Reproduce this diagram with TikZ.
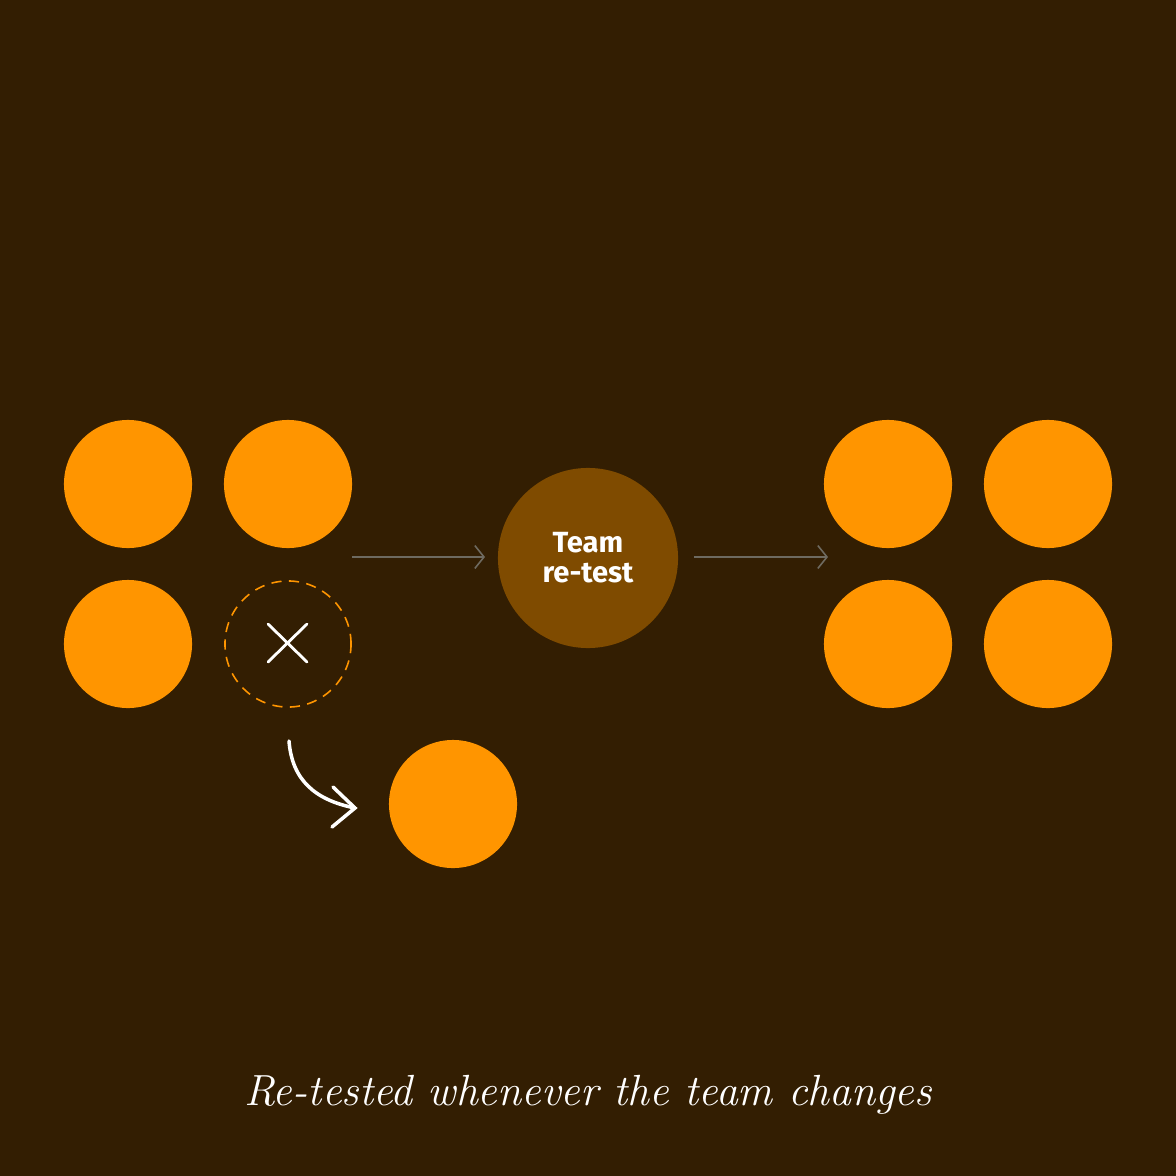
\documentclass[tikz,border=0pt]{standalone}
\usepackage{fontspec}
\newfontfamily\labelfont{Fira Sans}
\usetikzlibrary{arrows.meta}
\definecolor{bgc}{HTML}{331E02}
\definecolor{orng}{HTML}{FF9500}
\definecolor{brwn}{HTML}{7F4B00}
\definecolor{greyl}{HTML}{6E6A60}
\tikzset{
  member/.style={circle, fill=orng, minimum size=1.28cm, inner sep=0pt},
  gone/.style={circle, draw=orng, dash pattern=on 2.9pt off 2.1pt, line width=0.45pt, minimum size=1.26cm, inner sep=0pt},
  hub/.style={circle, fill=brwn, minimum size=1.8cm, inner sep=0pt, text=white, font=\labelfont\bfseries\fontsize{8.3}{8.6}\selectfont, align=center},
  flow/.style={draw=greyl, line width=0.45pt, -{Straight Barb[length=2.6pt,width=6.5pt,line width=0.45pt]}},
  chalk/.style={draw=white, line width=1pt, line cap=round}
}
\begin{document}
\begin{tikzpicture}[x=0.01cm,y=-0.01cm]
\fill[bgc] (0,0) rectangle (1176,1176);
\useasboundingbox (0,0) rectangle (1176,1176);
% left team
\node[member] (l1) at (128,484) {};
\node[member] (l2) at (288,484) {};
\node[member] (l3) at (128,644) {};
\node[gone] (l4) at (288,644) {};
\node[member] (new) at (453,804) {};
% hub
\node[hub] (hub) at (588,558) {Team\\re-test};
% right team
\node[member] (r1) at (888,484) {};
\node[member] (r2) at (1048,484) {};
\node[member] (r3) at (888,644) {};
\node[member] (r4) at (1048,644) {};
% cross
\coordinate (xa) at (268,624); \coordinate (xb) at (307,662);
\coordinate (xc) at (268,662); \coordinate (xd) at (307,624);
\draw[chalk, line width=0.8pt] (xa) -- (xb);
\draw[chalk, line width=0.8pt] (xc) -- (xd);
% flow arrows
\coordinate (a1s) at (352,557); \coordinate (a1e) at (485,557);
\coordinate (a2s) at (694,557); \coordinate (a2e) at (828,557);
\draw[flow] (a1s) -- (a1e);
\draw[flow] (a2s) -- (a2e);
% curved replacement arrow
\coordinate (cs) at (289,741); \coordinate (ce) at (355,808);
\draw[chalk] (cs) .. controls (292,780) and (315,800) .. (ce);
\draw[chalk] (333,787) -- (ce) -- (332,827);
% caption
\node[text=white, font=\itshape\fontsize{12.4}{15}\selectfont] (cap) at (588,1095) {Re-tested whenever the team changes};
\end{tikzpicture}
\end{document}
